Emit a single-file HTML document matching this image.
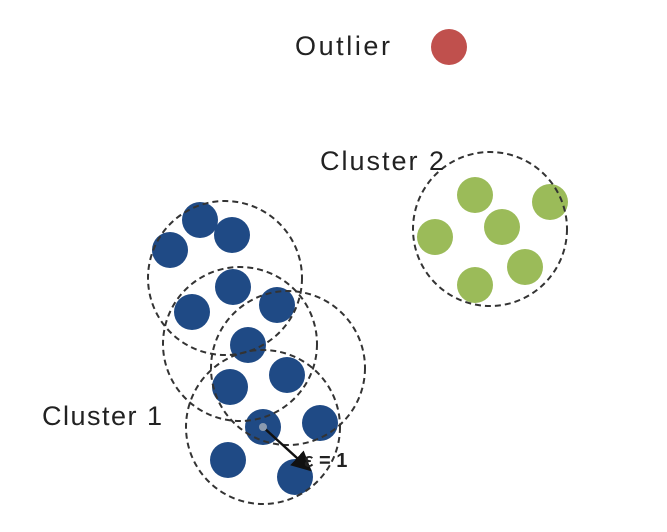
<!DOCTYPE html>
<html><head><meta charset="utf-8"><style>
html,body{margin:0;padding:0;background:#fff;width:667px;height:532px;overflow:hidden}
text{font-family:"Liberation Sans",sans-serif}
</style></head><body>
<svg width="667" height="532" viewBox="0 0 667 532">
<defs><marker id="ah" markerWidth="8" markerHeight="8" refX="6" refY="4" orient="auto"><path d="M0,0 L8,4 L0,8 z" fill="#111"/></marker></defs>
<g id="dots"></g>
<g id="rings" fill="none" stroke="#333" stroke-width="2" stroke-dasharray="6,4"></g>
<text x="295" y="55" font-size="27" textLength="95" fill="#222">Outlier</text>
<text x="320" y="170" font-size="27" textLength="124" fill="#222">Cluster 2</text>
<text x="42" y="425" font-size="27" textLength="120" fill="#222">Cluster 1</text>
<line x1="263" y1="427" x2="308" y2="468" stroke="#111" stroke-width="2.5" marker-end="url(#ah)"/>
<circle cx="263" cy="427" r="4" fill="#8a9ab0"/>
<text x="304" y="467" font-size="20" font-weight="bold" fill="#222">ε = 1</text>
</svg>
<script>
const blueX=[200,232,170,233,192,277,248,287,230,263,320,228,295];
const blueY=[220,235,250,287,312,305,345,375,387,427,423,460,477];
const greenX=[475,550,502,435,525,475];
const greenY=[195,202,227,237,267,285];
const ringX=[225,240,288,263,490];
const ringY=[278,344,368,427,229];
const outlier=[449,47];
const ns="http://www.w3.org/2000/svg";
const dots=document.getElementById('dots'),rings=document.getElementById('rings');
function dot(x,y,fill,name){const c=document.createElementNS(ns,'circle');c.setAttribute('cx',x);c.setAttribute('cy',y);c.setAttribute('r',18);c.setAttribute('fill',fill);


dots.appendChild(c);}
blueX.forEach((x,i)=>dot(x,blueY[i],'#1f4a85','cluster-1-point'));
greenX.forEach((x,i)=>dot(x,greenY[i],'#9bbb59','cluster-2-point'));
dot(outlier[0],outlier[1],'#c0504d','outlier-point');
ringX.forEach((x,i)=>{const c=document.createElementNS(ns,'circle');c.setAttribute('cx',x);c.setAttribute('cy',ringY[i]);c.setAttribute('r',77);


rings.appendChild(c);});
</script>
</body></html>
